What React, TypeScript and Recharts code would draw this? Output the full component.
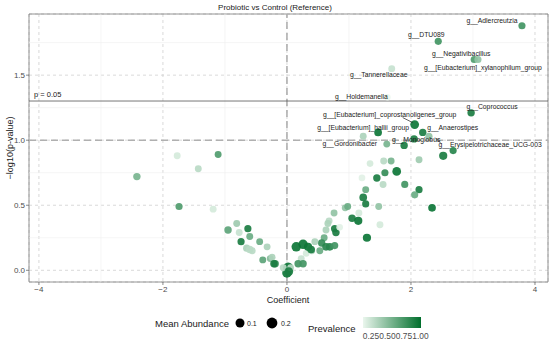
import React from 'react';
import {
  ScatterChart,
  Scatter,
  XAxis,
  YAxis,
  CartesianGrid,
  ReferenceLine,
  ReferenceArea,
} from 'recharts';

// ---- data ----
const taxonLabels = [
  'g__Adlercreutzia',
  'g__DTU089',
  'g__Negativibacillus',
  'g__[Eubacterium]_xylanophilum_group',
  'g__Tannerellaceae',
  'g__Holdemanella',
  'g__Coprococcus',
  'g__[Eubacterium]_coprostanoligenes_group',
  'g__[Eubacterium]_hallii_group',
  'g__Anaerostipes',
  'g__Gordonibacter',
  'g__Monoglobus',
  'g__Erysipelotrichaceae_UCG-003',
];

const coef = [
  3.79, 2.44, 3.02, 3.08, 1.69, 1.62, 2.97, 2.06, 1.47, 2.19, 1.61, 1.89, 2.68,
  2.29, 2.05, 1.23, 2.52, 2.13, 1.34, 1.56, 1.68, 1.77, 1.58, 1.45, 1.21, 1.55,
  1.9, 1.27, 2.13, 2.06, 1.23, 1.27, 2.34, 1.48, 0.94, 0.98, 1.16, 0.76, 1.05,
  1.15, 1.5, 0.68, 0.66, 0.63, 0.77, 0.79, 1.29, 0.85, 0.6, 0.56, 0.63, 0.69,
  0.77, 0.45, 0.53, 0.4, 0.31, 0.15, 0.26, 0.34, 0.39, 0.23, 0.18, 0.26, 0.02,
  0.0, 0.06, -0.19, -0.06, -1.19, -0.81, -0.95, -0.63, -0.77, -0.6, -0.74,
  -0.44, -0.65, -0.6, -0.56, -0.32, -0.39, -0.27, -0.24, -0.21, -2.42, -1.77,
  -1.11, -1.43, -1.74, 0.03,
];

const negLogP = [
  1.88, 1.76, 1.62, 1.62, 1.55, 1.33, 1.21, 1.12, 1.06, 1.06, 0.97, 0.96, 0.92,
  1.03, 1.01, 1.03, 0.88, 0.85, 0.82, 0.84, 0.84, 0.76, 0.75, 0.71, 0.71, 0.66,
  0.66, 0.62, 0.62, 0.58, 0.56, 0.51, 0.48, 0.49, 0.48, 0.49, 0.44, 0.44, 0.4,
  0.38, 0.35, 0.38, 0.36, 0.31, 0.32, 0.29, 0.25, 0.33, 0.25, 0.21, 0.18, 0.18,
  0.19, 0.22, 0.15, 0.15, 0.13, 0.18, 0.2, 0.18, 0.16, 0.09, 0.05, 0.05, 0.02,
  -0.02, 0.02, 0.05, 0.02, 0.47, 0.36, 0.31, 0.32, 0.29, 0.26, 0.22, 0.22,
  0.17, 0.16, 0.15, 0.18, 0.08, 0.09, 0.1, 0.05, 0.72, 0.88, 0.89, 0.78, 0.49,
  -0.01,
];

const prevalence = [
  0.75, 0.75, 0.7, 0.45, 0.25, 0.12, 0.9, 0.95, 0.95, 0.9, 0.55, 0.9, 0.85,
  0.45, 0.9, 0.35, 0.9, 0.4, 0.2, 0.3, 0.55, 0.95, 0.8, 0.9, 0.15, 0.3,
  0.75, 0.6, 0.9, 0.6, 0.9, 0.9, 0.95, 0.45, 0.45, 0.6, 0.2, 0.45, 0.9,
  0.95, 0.2, 0.3, 0.35, 0.35, 0.9, 0.9, 0.95, 0.15, 0.6, 0.8, 0.85, 0.85,
  0.75, 0.35, 0.6, 0.35, 0.2, 0.95, 0.95, 0.95, 0.9, 0.25, 0.75, 0.75, 0.95,
  0.95, 0.3, 0.8, 0.3, 0.2, 0.4, 0.65, 0.9, 0.25, 0.6, 0.9,
  0.6, 0.35, 0.3, 0.3, 0.35, 0.65, 0.5, 0.35, 0.9, 0.55, 0.2,
  0.7, 0.3, 0.7, 0.9,
];

const abundance = [
  0.06, 0.06, 0.06, 0.06, 0.05, 0.03, 0.07, 0.12, 0.08, 0.07, 0.05, 0.07, 0.06,
  0.06, 0.07, 0.05, 0.1, 0.05, 0.04, 0.05, 0.05, 0.12, 0.06, 0.07, 0.04, 0.05,
  0.06, 0.05, 0.06, 0.06, 0.08, 0.06, 0.08, 0.05, 0.05, 0.05, 0.05, 0.05, 0.07,
  0.1, 0.05, 0.05, 0.05, 0.05, 0.07, 0.07, 0.1, 0.04, 0.05, 0.07, 0.08, 0.08,
  0.06, 0.05, 0.05, 0.05, 0.04, 0.15, 0.15, 0.1, 0.08, 0.05, 0.07, 0.07, 0.18,
  0.15, 0.05, 0.07, 0.05, 0.05, 0.05, 0.07, 0.06, 0.05, 0.05, 0.06,
  0.05, 0.06, 0.07, 0.05, 0.05, 0.05, 0.05, 0.05, 0.07, 0.07, 0.05,
  0.05, 0.05, 0.06, 0.12,
];

const xTicks = [-4, -2, 0, 2, 4];
const yTicks = [0, 0.5, 1.0, 1.5];
const xMinor = [-3, -1, 1, 3];
const yMinor = [0.25, 0.75, 1.25, 1.75];
const pThreshold = 0.05;
const prevTickLabels = ['0.25', '0.50', '0.75', '1.00'];
const abundanceLegend = [0.1, 0.2];

// ---- label placement (pixel offsets from point, text centre) ----
const labelPlacement: Record<string, { dx: number; dy: number; seg?: [number, number, number, number] }> = {
  'g__Adlercreutzia': { dx: -30, dy: -5 },
  'g__DTU089': { dx: -12, dy: -7 },
  'g__Negativibacillus': { dx: -13, dy: -6 },
  'g__[Eubacterium]_xylanophilum_group': { dx: 5, dy: 8 },
  'g__Tannerellaceae': { dx: -13, dy: 6 },
  'g__Holdemanella': { dx: -26, dy: -1 },
  'g__Coprococcus': { dx: 21, dy: -6 },
  'g__[Eubacterium]_coprostanoligenes_group': { dx: -25, dy: -10, seg: [-12, -7, -2, -2] },
  'g__[Eubacterium]_hallii_group': { dx: -15, dy: -5 },
  'g__Anaerostipes': { dx: 30, dy: -5 },
  'g__Gordonibacter': { dx: -37, dy: -1 },
  'g__Monoglobus': { dx: 12, dy: -6 },
  'g__Erysipelotrichaceae_UCG-003': { dx: 37, dy: -6, seg: [-18, -13, -12, -7] },
};

const FONT = '"Liberation Sans", Arial, Helvetica, sans-serif';
const PREV_MIN = 0.12;
const PREV_MAX = 1.0;
const LOW = [234, 246, 237];
const HIGH = [0, 110, 44];

function prevColor(p: number): string {
  const t = Math.max(0, Math.min(1, (p - PREV_MIN) / (PREV_MAX - PREV_MIN)));
  const c = LOW.map((l, i) => Math.round(l + (HIGH[i] - l) * t));
  return `rgb(${c[0]},${c[1]},${c[2]})`;
}

function abRadius(a: number): number {
  return 2.8 + 13 * a;
}

const points = coef.map((x, i) => ({
  x,
  y: negLogP[i],
  prev: prevalence[i],
  ab: abundance[i],
}));

const labelData = taxonLabels.map((name, i) => ({
  x: coef[i],
  y: negLogP[i],
  name,
  ...labelPlacement[name],
}));

const PointShape = (props: any) => {
  const { cx, cy, payload } = props;
  if (cx == null || cy == null) return null;
  return (
    <circle
      cx={cx}
      cy={cy}
      r={abRadius(payload.ab)}
      fill={prevColor(payload.prev)}
      fillOpacity={0.92}
      stroke="none"
    />
  );
};

const LabelShape = (props: any) => {
  const { cx, cy, payload } = props;
  if (cx == null || cy == null) return null;
  const seg = payload.seg;
  return (
    <g>
      {seg && (
        <line
          x1={cx + seg[0]}
          y1={cy + seg[1]}
          x2={cx + seg[2]}
          y2={cy + seg[3]}
          stroke="#222"
          strokeWidth={0.7}
        />
      )}
      <text
        x={cx + payload.dx}
        y={cy + payload.dy}
        textAnchor="middle"
        dominantBaseline="central"
        fontSize={6.8}
        fontFamily={FONT}
        fill="#1a1a1a"
      >
        {payload.name}
      </text>
    </g>
  );
};

const X_DOMAIN: [number, number] = [-4.16, 4.21];
const Y_DOMAIN: [number, number] = [-0.09, 1.97];
const pLine = -Math.log10(pThreshold);

export default function App() {
  return (
    <div style={{ position: 'absolute', left: 0, top: 0, width: 550, height: 341, background: '#fff' }}>
      <ScatterChart
        width={550}
        height={341}
        margin={{ top: 14, right: 2, bottom: 0, left: 0 }}
      >
        <CartesianGrid strokeDasharray="3 3" stroke="#cfcfcf" strokeWidth={0.8} />
        {xMinor.map((v) => (
          <ReferenceLine key={'xm' + v} x={v} stroke="#efefef" strokeWidth={0.6} />
        ))}
        {yMinor.map((v) => (
          <ReferenceLine key={'ym' + v} y={v} stroke="#efefef" strokeWidth={0.6} />
        ))}
        <XAxis
          type="number"
          dataKey="x"
          domain={X_DOMAIN}
          ticks={xTicks}
          allowDataOverflow
          height={59}
          axisLine={false}
          tickSize={3}
          tickMargin={1}
          tickLine={{ stroke: '#555', strokeWidth: 0.7 }}
          tick={{ fontSize: 8, fill: '#4d4d4d', fontFamily: FONT }}
          tickFormatter={(v: number) => (v < 0 ? '\u2212' + Math.abs(v) : String(v))}
        />
        <YAxis
          type="number"
          dataKey="y"
          domain={Y_DOMAIN}
          ticks={yTicks}
          allowDataOverflow
          width={29}
          axisLine={false}
          tickSize={3}
          tickMargin={1}
          tickLine={{ stroke: '#555', strokeWidth: 0.7 }}
          tick={{ fontSize: 8, fill: '#4d4d4d', fontFamily: FONT }}
          tickFormatter={(v: number) => v.toFixed(1)}
        />
        <ReferenceLine x={0} stroke="#b0b0b0" strokeWidth={1.6} strokeDasharray="7 4" />
        <ReferenceLine y={1} stroke="#b0b0b0" strokeWidth={1.6} strokeDasharray="7 4" />
        <ReferenceLine y={pLine} stroke="#555" strokeWidth={0.8} />
        <ReferenceArea
          x1={X_DOMAIN[0]}
          x2={X_DOMAIN[1]}
          y1={Y_DOMAIN[0]}
          y2={Y_DOMAIN[1]}
          fill="none"
          stroke="#7a7a7a"
          strokeWidth={0.8}
          ifOverflow="visible"
        />
        <Scatter data={points} shape={PointShape} isAnimationActive={false} />
        <Scatter data={labelData} shape={LabelShape} isAnimationActive={false} />
      </ScatterChart>
      <svg
        width={550}
        height={341}
        style={{ position: 'absolute', left: 0, top: 0, pointerEvents: 'none' }}
      >
        <defs>
          <linearGradient id="prevGrad" x1="0" x2="1" y1="0" y2="0">
            <stop offset="0%" stopColor={prevColor(PREV_MIN)} />
            <stop offset="50%" stopColor={prevColor((PREV_MIN + PREV_MAX) / 2)} />
            <stop offset="100%" stopColor={prevColor(PREV_MAX)} />
          </linearGradient>
        </defs>
        <text x={275} y={7} textAnchor="middle" dominantBaseline="central" fontSize={8} fontFamily={FONT} fill="#1a1a1a">
          Probiotic vs Control (Reference)
        </text>
        <text x={34} y={94} dominantBaseline="central" fontSize={7.5} fontFamily={FONT} fill="#1a1a1a">
          {'p = ' + pThreshold}
        </text>
        <text x={288} y={300} textAnchor="middle" dominantBaseline="central" fontSize={9} fontFamily={FONT} fill="#1a1a1a">
          Coefficient
        </text>
        <text
          x={10}
          y={148}
          textAnchor="middle"
          dominantBaseline="central"
          fontSize={9}
          fontFamily={FONT}
          fill="#1a1a1a"
          transform="rotate(-90 10 148)"
        >
          {'\u2212log10(p-value)'}
        </text>
        <text x={155} y={323} dominantBaseline="central" fontSize={9.5} fontFamily={FONT} fill="#1a1a1a">
          Mean Abundance
        </text>
        {abundanceLegend.map((a, i) => (
          <g key={a}>
            <circle cx={240 + i * 32} cy={323} r={i === 0 ? 4.5 : 5.4} fill="#000" />
            <text x={247 + i * 34} y={323} dominantBaseline="central" fontSize={7} fontFamily={FONT} fill="#1a1a1a">
              {String(a)}
            </text>
          </g>
        ))}
        <text x={308} y={328} dominantBaseline="central" fontSize={9.5} fontFamily={FONT} fill="#1a1a1a">
          Prevalence
        </text>
        <rect x={363} y={317} width={58} height={11} fill="url(#prevGrad)" />
        {prevTickLabels.map((t, i) => (
          <text
            key={t}
            x={371 + i * 16.5}
            y={336}
            textAnchor="middle"
            dominantBaseline="central"
            fontSize={8.4}
            fontFamily={FONT}
            fill="#4d4d4d"
          >
            {t}
          </text>
        ))}
      </svg>
    </div>
  );
}
